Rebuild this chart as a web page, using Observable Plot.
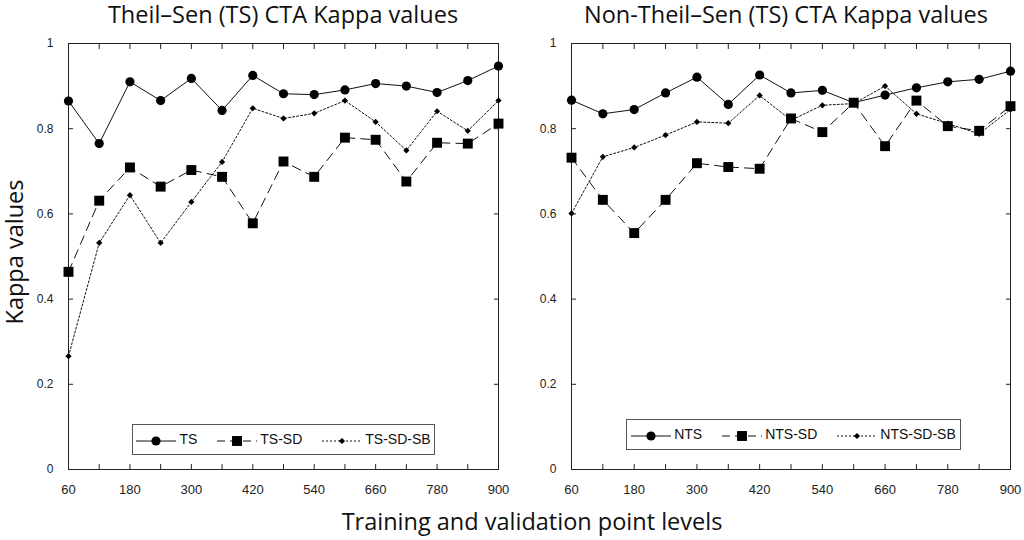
<!DOCTYPE html>
<html>
<head>
<meta charset="utf-8">
<script src="https://cdn.jsdelivr.net/npm/d3@7"></script>
<script src="https://cdn.jsdelivr.net/npm/@observablehq/plot@0.6"></script>
<style>
  body { margin: 0; background: #fff; }
  #wrap { position: relative; width: 1024px; height: 540px; font-family: "Liberation Sans", Arial, sans-serif; color: #111; }
  .big { position: absolute; font-family: "Open Sans", sans-serif; font-size: 23.5px; line-height: 26px; white-space: nowrap; color: #111; }
  .panel { position: absolute; top: 30px; }
  .legend { position: absolute; border: 1.5px solid #555; background: #fff; display: flex; align-items: center; justify-content: center; gap: 4px; font-size: 14px; box-sizing: border-box; }
  .legend span { margin-right: 16px; }
  .legend span:last-child { margin-right: 0; }
  .legend svg { vertical-align: middle; margin-right: 3px; }
</style>
</head>
<body>
<div id="wrap">
  <div class="big" style="left:283px;top:1px;transform:translateX(-50%)">Theil–Sen (TS) CTA Kappa values</div>
  <div class="big" style="left:786px;top:1px;transform:translateX(-50%)">Non-Theil–Sen (TS) CTA Kappa values</div>
  <div class="big" style="left:14px;top:252px;transform:translate(-50%,-50%) rotate(-90deg)">Kappa values</div>
  <div class="big" style="left:532px;top:508px;transform:translateX(-50%)">Training and validation point levels</div>
  <div id="left" class="panel" style="left:0px"></div>
  <div id="right" class="panel" style="left:512px"></div>
</div>
<script>
// training / validation point levels
const levels = [60, 120, 180, 240, 300, 360, 420, 480, 540, 600, 660, 720, 780, 840, 900];

// Theil-Sen panel
const ts       = [0.865, 0.765, 0.910, 0.866, 0.918, 0.843, 0.925, 0.882, 0.880, 0.891, 0.906, 0.900, 0.885, 0.913, 0.947];
const tsSD     = [0.464, 0.631, 0.709, 0.664, 0.703, 0.687, 0.578, 0.723, 0.687, 0.779, 0.774, 0.676, 0.767, 0.765, 0.812];
const tsSDSB   = [0.266, 0.532, 0.644, 0.532, 0.628, 0.722, 0.848, 0.824, 0.836, 0.866, 0.816, 0.749, 0.841, 0.795, 0.866];

// Non-Theil-Sen panel
const nts      = [0.867, 0.835, 0.845, 0.884, 0.921, 0.857, 0.926, 0.884, 0.890, 0.861, 0.879, 0.896, 0.910, 0.916, 0.935];
const ntsSD    = [0.732, 0.633, 0.555, 0.633, 0.719, 0.710, 0.706, 0.824, 0.792, 0.861, 0.759, 0.866, 0.806, 0.795, 0.853];
const ntsSDSB  = [0.601, 0.734, 0.756, 0.785, 0.816, 0.813, 0.878, 0.820, 0.855, 0.859, 0.900, 0.835, 0.812, 0.788, 0.845];

const xTicks = levels;
const yTicks = [0, 0.2, 0.4, 0.6, 0.8, 1];

const styles = {
  circle:  {symbol: "circle", r: 4.6, dash: null},
  square:  {symbol: "square", r: 5.6, dash: "9,6"},
  diamond: {symbol: "diamond2", r: 2.8, dash: "2,2"}
};

function rows(values) {
  return levels.map((x, i) => ({x, y: values[i]}));
}

function panel(series, marginLeft) {
  const marks = [Plot.frame({stroke: "#222"})];
  for (const [values, kind] of series) {
    const s = styles[kind];
    marks.push(Plot.line(rows(values), {x: "x", y: "y", stroke: "#111", strokeWidth: 1, strokeDasharray: s.dash}));
  }
  for (const [values, kind] of series) {
    const s = styles[kind];
    marks.push(Plot.dot(rows(values), {x: "x", y: "y", symbol: s.symbol, r: s.r, fill: "#000", stroke: "none"}));
  }
  marks.push(
    Plot.axisX({anchor: "bottom", ticks: xTicks, tickSize: -5, tickPadding: 20, fontSize: 13,
      tickFormat: d => ((d - 60) % 120 === 0 ? String(d) : ""), label: null}),
    Plot.axisX({anchor: "top", ticks: xTicks, tickSize: -5, tickFormat: () => "", label: null}),
    Plot.axisY({anchor: "left", ticks: yTicks, tickSize: -5, tickPadding: 20, fontSize: 12,
      tickFormat: d => String(+d.toFixed(1)), label: null}),
    Plot.axisY({anchor: "right", ticks: yTicks, tickSize: -5, tickFormat: () => "", label: null})
  );
  return Plot.plot({
    width: 512,
    height: 480,
    marginLeft,
    marginRight: 14,
    marginTop: 13,
    marginBottom: 41,
    x: {domain: [60, 900]},
    y: {domain: [0, 1]},
    style: {fontFamily: "'Liberation Sans', Arial, sans-serif", color: "#222", background: "transparent"},
    marks
  });
}

function legendSample(kind) {
  const s = styles[kind];
  const sym = d3.symbol().type(
    kind === "circle" ? d3.symbolCircle : kind === "square" ? d3.symbolSquare : d3.symbolDiamond2
  ).size(Math.PI * s.r * s.r)();
  const dash = kind === "square" ? "8,5" : s.dash;
  return `<svg width="40" height="14"><line x1="0" x2="40" y1="7" y2="7" stroke="#111" stroke-width="1" ${dash ? `stroke-dasharray="${dash}"` : ""}/><path d="${sym}" transform="translate(20,7)" fill="#000"/></svg>`;
}

function legend(names, box) {
  const kinds = ["circle", "square", "diamond"];
  const div = document.createElement("div");
  div.className = "legend";
  Object.assign(div.style, box);
  div.innerHTML = names.map((n, i) => `<span>${legendSample(kinds[i])}${n}</span>`).join("");
  document.getElementById("wrap").appendChild(div);
}

document.getElementById("left").append(panel([[ts, "circle"], [tsSD, "square"], [tsSDSB, "diamond"]], 68));
document.getElementById("right").append(panel([[nts, "circle"], [ntsSD, "square"], [ntsSDSB, "diamond"]], 59));

legend(["TS", "TS-SD", "TS-SD-SB"], {left: "132px", top: "424px", width: "303px", height: "31px"});
legend(["NTS", "NTS-SD", "NTS-SD-SB"], {left: "626px", top: "419px", width: "335px", height: "31px"});
</script>
</body>
</html>
